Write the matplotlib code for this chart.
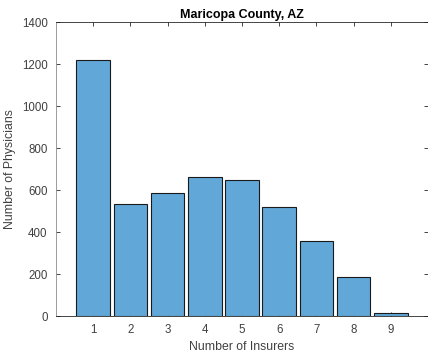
import matplotlib
matplotlib.use('Agg')
import matplotlib.pyplot as plt

# Values
insurers = [1, 2, 3, 4, 5, 6, 7, 8, 9]
physicians = [1219, 532, 584, 660, 648, 518, 356, 184, 13]
y_ticks = [0, 200, 400, 600, 800, 1000, 1200, 1400]

plt.rcParams['font.family'] = ['Liberation Sans', 'DejaVu Sans']

fig = plt.figure(figsize=(4.28, 3.58), dpi=100)
ax = fig.add_axes([0.1308, 0.1173, 0.8692, 0.8212])

ax.bar(insurers, physicians, width=0.9, color='#61a8d9',
       edgecolor='#1a1a1a', linewidth=0.8, zorder=2)

ax.set_xlim(0, 10)
ax.set_ylim(0, 1400)
ax.set_xticks(insurers)
ax.set_yticks(y_ticks)

axis_col = '#262626'
for s in ax.spines.values():
    s.set_color(axis_col)
    s.set_linewidth(0.6)
ax.spines['left'].set_color('#8c8c8c')
ax.tick_params(direction='in', length=3, width=0.6, colors=axis_col,
               labelsize=8.3, top=True, right=True, pad=6)
for lbl in ax.get_xticklabels() + ax.get_yticklabels():
    lbl.set_color('#404040')

ax.set_title('Maricopa County, AZ', fontsize=9, fontweight='bold', pad=3)
ax.set_xlabel('Number of Insurers', fontsize=8.8, color='#404040', labelpad=3)
ax.set_ylabel('Number of Physicians', fontsize=8.8, color='#404040', labelpad=4)

fig.savefig('out.png', dpi=100)
